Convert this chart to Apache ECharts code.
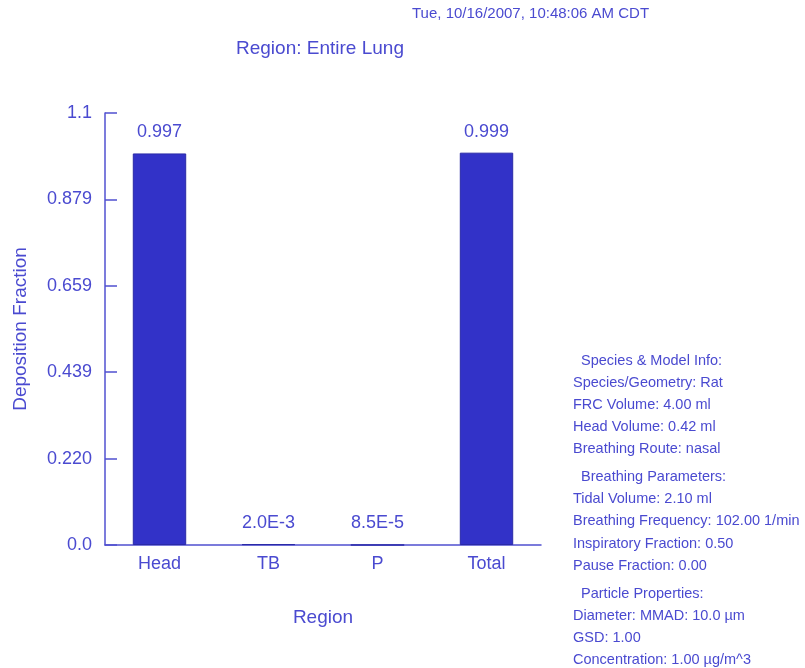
<!DOCTYPE html>
<html><head><meta charset="utf-8">
<script src="https://cdn.jsdelivr.net/npm/echarts@6/dist/echarts.min.js"></script>
<style>html,body{margin:0;padding:0;background:#fff}#c{width:805px;height:668px}</style>
</head><body><div id="c"></div>
<script>
const categories = ['Head', 'TB', 'P', 'Total'];
const values = [0.997, 0.002, 0.000085, 0.999];
const valueLabels = ['0.997', '2.0E-3', '8.5E-5', '0.999'];
const yTickLabels = ['0.0', '0.220', '0.439', '0.659', '0.879', '1.1'];
const infoSections = [
  ['  Species & Model Info:', 'Species/Geometry: Rat', 'FRC Volume: 4.00 ml', 'Head Volume: 0.42 ml', 'Breathing Route: nasal'],
  ['  Breathing Parameters:', 'Tidal Volume: 2.10 ml', 'Breathing Frequency: 102.00 1/min', 'Inspiratory Fraction: 0.50', 'Pause Fraction: 0.00'],
  ['  Particle Properties:', 'Diameter: MMAD: 10.0 \u00b5m', 'GSD: 1.00', 'Concentration: 1.00 \u00b5g/m^3']
];
const txt = '#4a4ad0';
const font = 'Liberation Sans, Arial, sans-serif';
const chart = echarts.init(document.getElementById('c'));
const graphics = [];
let y = 361;
infoSections.forEach((sec) => {
  sec.forEach((line) => {
    graphics.push({type: 'text', left: 573, top: y - 8, style: {text: line, fill: txt, font: '14.5px ' + font}});
    y += 22.2;
  });
  y += 5.5;
});
graphics.push({type: 'text', left: 412, top: 6, style: {text: 'Tue, 10/16/2007, 10:48:06 AM CDT', fill: txt, font: '15px ' + font}});
chart.setOption({
  animation: false,
  title: {text: 'Region: Entire Lung', left: 231, top: 34, textStyle: {color: txt, fontSize: 19, fontWeight: 'normal', fontFamily: font}},
  grid: {left: 105, top: 113, right: 264, bottom: 123, containLabel: false, outerBoundsMode: 'none'},
  xAxis: {
    type: 'category', data: categories,
    name: 'Region', nameLocation: 'middle', nameGap: 63,
    nameTextStyle: {color: txt, fontSize: 19, fontFamily: font},
    axisLine: {lineStyle: {color: '#5050d0', width: 1.5}},
    axisTick: {show: false},
    axisLabel: {color: txt, fontSize: 18, fontFamily: font, margin: 10}
  },
  yAxis: {
    type: 'value', min: 0, max: 1.1, interval: 0.22,
    name: 'Deposition Fraction', nameLocation: 'middle', nameGap: 75, nameRotate: 90,
    nameTextStyle: {color: txt, fontSize: 19, fontFamily: font},
    splitLine: {show: false},
    axisLine: {show: true, lineStyle: {color: '#5050d0', width: 1.5}},
    axisTick: {show: true, inside: true, length: 12, lineStyle: {color: '#5050d0', width: 1.5}},
    axisLabel: {color: txt, fontSize: 18, fontFamily: font, margin: 13,
      formatter: (v) => yTickLabels[Math.round(v / 0.22)]}
  },
  series: [{
    type: 'bar', data: values, barWidth: '49%',
    itemStyle: {color: '#3232c8', borderColor: '#2a2aa8', borderWidth: 1},
    label: {show: true, position: 'top', distance: 12, color: txt, fontSize: 18, fontFamily: font,
      formatter: (p) => valueLabels[p.dataIndex]}
  }],
  graphic: graphics
});
</script></body></html>
